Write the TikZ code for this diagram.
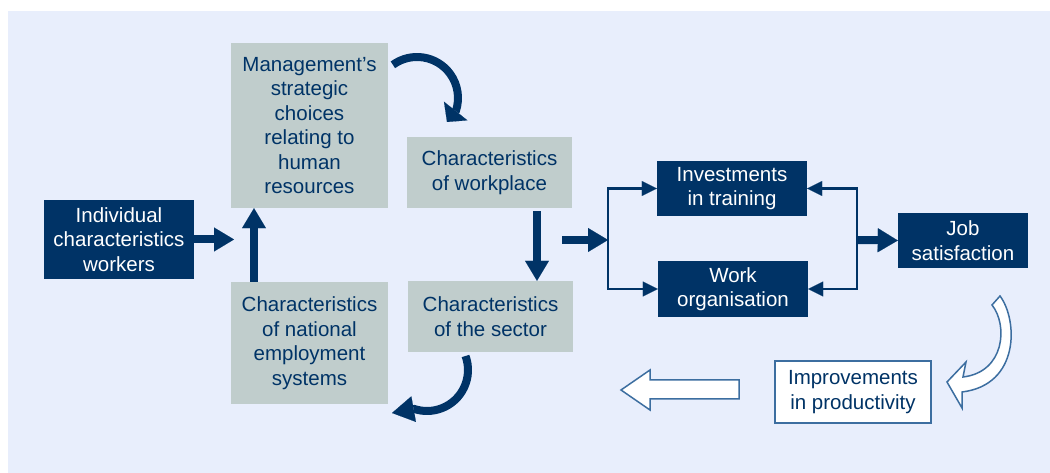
\documentclass[tikz,border=0pt]{standalone}
\usepackage{fontspec}
\setmainfont{Liberation Sans}
\usetikzlibrary{arrows.meta}
\definecolor{navy}{RGB}{0,51,102}
\definecolor{boxgrey}{RGB}{192,205,204}
\definecolor{bgblue}{RGB}{232,238,252}
\definecolor{edgeblue}{RGB}{60,110,160}

\begin{document}
\begin{tikzpicture}[x=1pt,y=1pt,
  box/.style={inner sep=0pt,align=center,font=\fontsize{20.5}{24.5}\selectfont},
  dark/.style={box,fill=navy,text=white},
  grey/.style={box,fill=boxgrey,text=navy},
  fat/.style={line width=8pt,navy,-{Triangle[length=20pt,width=24pt,line width=0.1pt]}},
  thin/.style={line width=2.3pt,navy,-{Triangle[length=15pt,width=15pt,line width=0.1pt]}},
  hollow/.style={fill=white,draw=edgeblue,line width=1.5pt}]
\useasboundingbox (0,0) rectangle (1050,473);
\fill[bgblue] (8,0) rectangle (1050,462);

\node[dark,minimum width=150pt,minimum height=79pt] (indiv) at (119,233.5) {Individual\\characteristics\\workers};
\node[grey,minimum width=157pt,minimum height=165pt] (mgmt) at (309.5,347.5) {Management’s\\strategic\\choices\\relating to\\human\\resources};
\node[grey,minimum width=165pt,minimum height=71pt] (work) at (489.5,300.5) {Characteristics\\of workplace};
\node[grey,minimum width=157pt,minimum height=122pt] (nat) at (309.5,130) {Characteristics\\of national\\employment\\systems};
\node[grey,minimum width=165pt,minimum height=71pt] (sect) at (490.5,156.5) {Characteristics\\of the sector};
\node[dark,minimum width=150pt,minimum height=55pt] (train) at (732,284.5) {Investments\\in training};
\node[dark,minimum width=150pt,minimum height=56pt] (org) at (733,184) {Work\\organisation};
\node[dark,minimum width=130pt,minimum height=55pt] (job) at (963,232.5) {Job\\satisfaction};
\node[box,draw=edgeblue,line width=2pt,fill=white,text=navy,minimum width=156pt,minimum height=62pt] (prod) at (853,81) {Improvements\\in productivity};

\coordinate (in) at (234,233.5);
\coordinate (from) at (562,233);
\coordinate (split) at (608,233);
\coordinate (merge) at (857,233);
\coordinate (topc) at (417,375);
\coordinate (topend) at (447,351);
\coordinate (lowc) at (427,103);
\coordinate (lowend) at (392,60);

\draw[fat] (indiv.east) -- (in);
\draw[fat] ([xshift=-55.5pt]nat.north) -- ([xshift=-55.5pt]mgmt.south);
\draw[fat] ([xshift=47.5pt,yshift=-3pt]work.south) -- ([xshift=47.5pt]work.south |- sect.north);
\draw[fat] (from) -- (split);
\draw[thin] (split) |- (train.west);
\draw[thin] (split) |- (org.west);
\draw[thin] (merge) |- (train.east);
\draw[thin] (merge) |- (org.east);
\draw[fat] (merge) -- (job.west);
\draw[fat,-{Triangle[length=14pt,width=30pt,line width=0.1pt]}] (topc) ++(126:41) arc[start angle=126,end angle=-18,radius=41] -- (topend);
\draw[fat,-{Triangle[length=22pt,width=26pt,line width=0.1pt]}] (lowc) ++(20:41) arc[start angle=20,end angle=-108,radius=41] -- (lowend);

\draw[hollow] (621,83) -- (650,103) -- (650,93) -- (739,93) -- (739,74) -- (650,74) -- (650,63) -- cycle;
\draw[hollow] (1000,177) .. controls (1018,153) and (1020,88) .. (962,81) -- (962,65) -- (947,91) -- (966,111) -- (963,96) .. controls (1005,101) and (1008,148) .. (992,168) -- cycle;
\end{tikzpicture}
\end{document}
